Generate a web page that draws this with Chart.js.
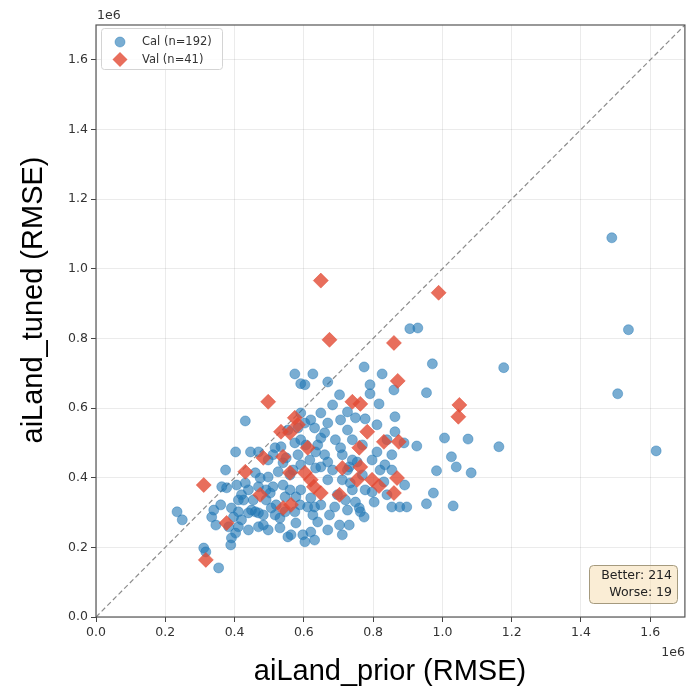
<!DOCTYPE html>
<html>
<head>
<meta charset="utf-8">
<script src="https://cdn.jsdelivr.net/npm/chart.js@4.4.1/dist/chart.umd.min.js"></script>
<style>
  html, body { margin: 0; padding: 0; background: #ffffff; }
  canvas { display: block; }
</style>
</head>
<body>
<canvas id="chart" width="693" height="690"></canvas>
<script>
// RMSE per site (units of 1e6): prior model on x, tuned model on y
const calPrior = [
  1.489,1.537,1.506,1.617,1.177,1.163,1.074,1.006,1.026,1.040,
  1.083,0.983,0.974,0.954,1.031,0.926,0.954,0.906,0.929,0.971,
  0.863,0.860,0.791,0.791,0.817,0.749,0.777,0.726,0.726,0.889,
  0.811,0.797,0.740,0.754,0.731,0.734,0.777,0.797,0.831,0.891,
  0.803,0.749,0.760,0.763,0.774,0.726,0.854,0.877,0.897,0.574,
  0.626,0.591,0.603,0.669,0.774,0.826,
  0.431,0.591,0.620,0.649,0.669,0.631,0.603,0.660,0.706,
  0.649,0.591,0.574,0.606,0.640,0.706,0.403,0.446,0.469,0.517,
  0.534,0.660,0.669,0.634,0.649,0.374,0.460,0.497,0.526,0.591,
  0.363,0.377,0.406,0.431,0.440,0.420,0.426,0.469,0.503,0.546,
  0.577,0.591,0.620,0.234,0.249,0.334,0.360,0.391,0.397,0.411,
  0.420,0.440,0.449,0.460,0.469,0.483,0.506,0.517,0.574,0.589,
  0.611,0.631,0.649,0.626,0.689,0.703,0.577,0.554,0.563,0.597,
  0.620,0.603,0.631,0.346,0.383,0.411,0.403,0.391,0.440,0.469,
  0.389,0.311,0.317,0.354,0.669,
  0.511,0.497,0.549,0.569,0.540,0.560,0.491,0.520,0.454,0.474,
  0.583,0.411,0.491,0.497,0.531,0.531,0.720,0.840,0.769,0.640,
  0.674,0.697,0.683,0.711,0.691,0.554,0.583,0.634,0.540,0.511,
  0.683,0.703,0.740,0.769,0.834,0.854,0.840,0.811,0.854,0.711,
  0.731,0.820,0.740,0.711,0.340,0.726,0.483,0.669,0.617,0.546,
  0.560,0.863
];
const calTuned = [
  1.089,0.825,0.641,0.477,0.716,0.489,0.511,0.514,0.460,0.431,
  0.414,0.420,0.356,0.325,0.319,0.491,0.644,0.828,0.830,0.727,
  0.575,0.652,0.667,0.641,0.612,0.572,0.569,0.589,0.537,0.500,
  0.474,0.451,0.451,0.445,0.431,0.385,0.365,0.359,0.388,0.379,
  0.330,0.330,0.313,0.302,0.287,0.307,0.316,0.316,0.316,0.698,
  0.698,0.670,0.667,0.675,0.718,0.698,
  0.563,0.586,0.566,0.586,0.557,0.543,0.557,0.529,0.566,
  0.514,0.509,0.500,0.494,0.494,0.486,0.474,0.474,0.474,0.486,
  0.489,0.466,0.445,0.428,0.431,0.422,0.414,0.402,0.417,0.437,
  0.374,0.371,0.379,0.385,0.365,0.351,0.336,0.374,0.356,0.345,
  0.345,0.365,0.342,0.302,0.279,0.287,0.322,0.313,0.287,0.302,
  0.279,0.299,0.307,0.302,0.299,0.293,0.313,0.293,0.302,0.322,
  0.316,0.316,0.322,0.293,0.316,0.264,0.270,0.230,0.236,0.236,
  0.244,0.216,0.221,0.264,0.259,0.259,0.241,0.227,0.250,0.259,
  0.207,0.198,0.187,0.141,0.394,
  0.466,0.451,0.457,0.422,0.379,0.365,0.336,0.322,0.336,0.399,
  0.466,0.336,0.365,0.250,0.256,0.284,0.336,0.351,0.408,0.273,
  0.293,0.351,0.422,0.394,0.509,0.537,0.543,0.474,0.443,0.374,
  0.609,0.638,0.509,0.494,0.437,0.422,0.509,0.552,0.466,0.236,
  0.264,0.422,0.365,0.466,0.307,0.422,0.264,0.250,0.451,0.302,
  0.408,0.532
];
const valPrior = [
  0.649,0.989,0.674,0.860,0.871,0.497,0.740,0.763,1.049,1.046,
  0.574,0.534,0.560,0.783,0.831,0.874,0.611,0.760,0.540,0.483,
  0.431,0.560,0.603,0.763,0.711,0.620,0.754,0.797,0.869,0.817,
  0.311,0.649,0.474,0.703,0.860,0.540,0.563,0.377,0.317,0.583,
  0.629
];
const valTuned = [
  0.966,0.931,0.796,0.787,0.678,0.618,0.618,0.612,0.609,0.575,
  0.572,0.532,0.529,0.532,0.503,0.503,0.486,0.486,0.460,0.457,
  0.417,0.414,0.414,0.431,0.428,0.394,0.394,0.394,0.399,0.376,
  0.379,0.356,0.351,0.351,0.356,0.313,0.322,0.270,0.164,0.552,
  0.374
];
const tickValues = [0, 0.2, 0.4, 0.6, 0.8, 1.0, 1.2, 1.4, 1.6];
const tickLabels = ['0.0', '0.2', '0.4', '0.6', '0.8', '1.0', '1.2', '1.4', '1.6'];
const axisLimits = [0, 1.7];
const betterCount = 214;
const worseCount = 19;

const CAL_FILL = 'rgba(31,119,180,0.6)';
const CAL_EDGE = 'rgba(31,119,180,0.7)';
const VAL_FILL = 'rgba(226,74,51,0.8)';
const VAL_EDGE = 'rgba(226,74,51,0.85)';

const toPoints = (xs, ys) => xs.map((x, i) => ({ x: x, y: ys[i] }));

function roundRect(ctx, x, y, w, h, r) {
  ctx.beginPath();
  ctx.moveTo(x + r, y);
  ctx.lineTo(x + w - r, y);
  ctx.quadraticCurveTo(x + w, y, x + w, y + r);
  ctx.lineTo(x + w, y + h - r);
  ctx.quadraticCurveTo(x + w, y + h, x + w - r, y + h);
  ctx.lineTo(x + r, y + h);
  ctx.quadraticCurveTo(x, y + h, x, y + h - r);
  ctx.lineTo(x, y + r);
  ctx.quadraticCurveTo(x, y, x + r, y);
  ctx.closePath();
}

// frame, offset labels, legend, summary box and axis titles
const decorations = {
  id: 'decorations',
  afterDatasetsDraw(chart) {
    const { ctx, chartArea: a } = chart;
    ctx.save();
    ctx.strokeStyle = '#555555';
    ctx.lineWidth = 1.2;
    ctx.strokeRect(a.left, a.top, a.right - a.left, a.bottom - a.top);
    ctx.restore();
  },
  afterDraw(chart) {
    const { ctx, chartArea: a } = chart;
    ctx.save();

    // scale offset labels
    ctx.fillStyle = '#333333';
    ctx.font = '12.5px "DejaVu Sans"';
    ctx.textBaseline = 'alphabetic';
    ctx.textAlign = 'left';
    ctx.fillText('1e6', a.left + 1, 19);
    ctx.textAlign = 'right';
    ctx.fillText('1e6', a.right, 656);

    // legend
    roundRect(ctx, 101.5, 28.5, 121, 41, 3);
    ctx.fillStyle = 'rgba(255,255,255,0.85)';
    ctx.fill();
    ctx.strokeStyle = '#d4d4d4';
    ctx.lineWidth = 1;
    ctx.stroke();

    ctx.beginPath();
    ctx.arc(120, 42, 5, 0, Math.PI * 2);
    ctx.fillStyle = CAL_FILL;
    ctx.fill();
    ctx.strokeStyle = CAL_EDGE;
    ctx.lineWidth = 0.6;
    ctx.stroke();

    ctx.beginPath();
    ctx.moveTo(120, 52);
    ctx.lineTo(127.5, 59.5);
    ctx.lineTo(120, 67);
    ctx.lineTo(112.5, 59.5);
    ctx.closePath();
    ctx.fillStyle = VAL_FILL;
    ctx.fill();

    ctx.fillStyle = '#333333';
    ctx.font = '11.5px "DejaVu Sans"';
    ctx.textAlign = 'left';
    ctx.textBaseline = 'middle';
    ctx.fillText('Cal (n=' + calPrior.length + ')', 142, 42);
    ctx.fillText('Val (n=' + valPrior.length + ')', 142, 60);

    // better / worse summary
    roundRect(ctx, 589.5, 565.5, 88, 38, 4);
    ctx.fillStyle = 'rgba(245,222,179,0.55)';
    ctx.fill();
    ctx.strokeStyle = '#a59a7e';
    ctx.lineWidth = 1;
    ctx.stroke();
    ctx.fillStyle = '#222222';
    ctx.font = '12.5px "DejaVu Sans"';
    ctx.textAlign = 'right';
    ctx.textBaseline = 'middle';
    ctx.fillText('Better: ' + betterCount, 672, 576);
    ctx.fillText('Worse: ' + worseCount, 672, 593);

    // axis titles
    ctx.fillStyle = '#000000';
    ctx.font = '29px "Liberation Sans", Arial, sans-serif';
    ctx.textAlign = 'center';
    ctx.textBaseline = 'alphabetic';
    ctx.fillText('aiLand_prior (RMSE)', 390, 680);
    ctx.translate(42, 300);
    ctx.rotate(-Math.PI / 2);
    ctx.fillText('aiLand_tuned (RMSE)', 0, 0);

    ctx.restore();
  }
};

const tickFont = { family: 'DejaVu Sans', size: 12.5 };
const gridStyle = {
  color: 'rgba(0,0,0,0.08)',
  lineWidth: 1,
  drawTicks: true,
  tickLength: 5,
  tickColor: '#444444',
  tickWidth: 1
};

new Chart(document.getElementById('chart'), {
  type: 'scatter',
  data: {
    datasets: [
      {
        type: 'line',
        label: 'y = x',
        data: toPoints(axisLimits, axisLimits),
        borderColor: 'rgba(120,120,120,0.85)',
        borderWidth: 1.2,
        borderDash: [5, 3],
        pointRadius: 0,
        fill: false,
        order: 3
      },
      {
        label: 'Cal',
        data: toPoints(calPrior, calTuned),
        pointStyle: 'circle',
        pointRadius: 5,
        backgroundColor: CAL_FILL,
        borderColor: CAL_EDGE,
        borderWidth: 0.6,
        order: 2
      },
      {
        label: 'Val',
        data: toPoints(valPrior, valTuned),
        pointStyle: 'rectRot',
        pointRadius: 7.5,
        backgroundColor: VAL_FILL,
        borderColor: VAL_EDGE,
        borderWidth: 0.6,
        order: 1
      }
    ]
  },
  options: {
    responsive: false,
    animation: false,
    devicePixelRatio: 1,
    layout: { padding: { top: 25, right: 3, left: 0, bottom: 0 } },
    plugins: {
      legend: { display: false },
      tooltip: { enabled: false },
      title: { display: false }
    },
    scales: {
      x: {
        type: 'linear',
        min: axisLimits[0],
        max: axisLimits[1],
        afterBuildTicks: s => { s.ticks = tickValues.map(v => ({ value: v })); },
        afterFit: s => { s.height = 73; },
        ticks: {
          callback: (v, i) => tickLabels[i],
          font: tickFont,
          color: '#333333',
          padding: 3,
          maxRotation: 0,
          autoSkip: false
        },
        grid: gridStyle,
        border: { display: false }
      },
      y: {
        type: 'linear',
        min: axisLimits[0],
        max: axisLimits[1],
        afterBuildTicks: s => { s.ticks = tickValues.map(v => ({ value: v })); },
        afterFit: s => { s.width = 96; },
        ticks: {
          callback: (v, i) => tickLabels[i],
          font: tickFont,
          color: '#333333',
          padding: 3,
          autoSkip: false
        },
        grid: gridStyle,
        border: { display: false }
      }
    }
  },
  plugins: [decorations]
});
</script>
</body>
</html>
